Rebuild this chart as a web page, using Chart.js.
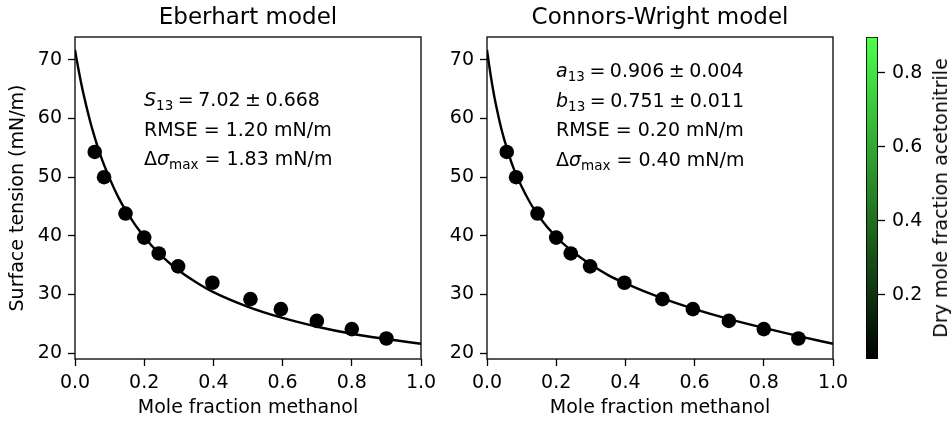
<!DOCTYPE html>
<html>
<head>
<meta charset="utf-8">
<script src="https://cdn.jsdelivr.net/npm/chart.js@4/dist/chart.umd.min.js"></script>
<style>
    body { margin: 0; background: #fff; }
    #wrap { position: relative; width: 952px; height: 421px; overflow: hidden; }
    canvas { position: absolute; top: 0; }
    .note { position: absolute; font: 19px 'DejaVu Sans'; line-height: 29.5px; color: #000; white-space: nowrap; }
    .note sub { font-size: 13.5px; line-height: 0; vertical-align: -4px; }
    .note .m { word-spacing: -1.5px; }
    #cbLabel { position: absolute; left: 940px; top: 198px; font: 19px 'DejaVu Sans'; white-space: nowrap;
               transform: translate(-50%, -50%) rotate(-90deg); }
</style>
</head>
<body>
<div id="wrap">
    <canvas id="eberhart" width="440" height="421" style="left:0"></canvas>
    <canvas id="connors" width="420" height="421" style="left:440px"></canvas>
    <canvas id="colorbar" width="92" height="421" style="left:860px"></canvas>
    <div class="note" style="left:144px;top:85px">
        <div class="m"><i>S</i><sub>13</sub> = 7.02 ± 0.668</div>
        <div>RMSE = 1.20 mN/m</div>
        <div>Δ<i>σ</i><sub>max</sub> = 1.83 mN/m</div>
    </div>
    <div class="note" style="left:556px;top:56px">
        <div class="m"><i>a</i><sub>13</sub> = 0.906 ± 0.004</div>
        <div class="m"><i>b</i><sub>13</sub> = 0.751 ± 0.011</div>
        <div>RMSE = 0.20 mN/m</div>
        <div>Δ<i>σ</i><sub>max</sub> = 0.40 mN/m</div>
    </div>
    <div id="cbLabel">Dry mole fraction acetonitrile</div>
</div>
<script>
// measured points
const methanolFrac = [0.057, 0.084, 0.146, 0.2, 0.242, 0.298, 0.397, 0.507, 0.595, 0.699, 0.8, 0.9];
const surfaceTension = [54.3, 50.0, 43.8, 39.7, 37.0, 34.8, 32.0, 29.2, 27.5, 25.5, 24.1, 22.5];

// fitted curves
const fitX = [0, 0.005, 0.01, 0.02, 0.03, 0.04, 0.05, 0.075, 0.1, 0.125, 0.15, 0.2, 0.25, 0.3, 0.35, 0.4, 0.5, 0.6, 0.7, 0.8, 0.9, 1.0];
const eberhartFit = [71.7, 70.0, 68.4, 65.4, 62.8, 60.4, 58.2, 53.5, 49.8, 46.6, 44.0, 39.8, 36.6, 34.1, 32.1, 30.4, 27.9, 26.0, 24.5, 23.3, 22.4, 21.6];
const connorsWrightFit = [71.7, 69.6, 67.6, 64.1, 61.2, 58.6, 56.4, 51.8, 48.4, 45.6, 43.3, 39.8, 37.2, 35.1, 33.3, 31.9, 29.5, 27.5, 25.8, 24.3, 22.9, 21.6];

const xTicks = [0, 0.2, 0.4, 0.6, 0.8, 1.0];
const yTicks = [20, 30, 40, 50, 60, 70];
const yRange = [19.0, 73.9];
const colorbarTicks = [0.2, 0.4, 0.6, 0.8];
const colorbarRange = [0.027, 0.897];

Chart.defaults.font.family = 'DejaVu Sans';
Chart.defaults.font.size = 19;
Chart.defaults.color = '#000';

// box around the plot area
const framePlugin = {
    id: 'frame',
    afterDatasetsDraw(chart) {
        const a = chart.chartArea;
        const ctx = chart.ctx;
        ctx.save();
        ctx.strokeStyle = '#000';
        ctx.lineWidth = 1.3;
        ctx.strokeRect(a.left, a.top, a.right - a.left, a.bottom - a.top);
        ctx.restore();
    }
};

function makePanel(id, title, fit, yAxisWidth, padRight, showYTitle) {
    const ctx = document.getElementById(id).getContext('2d');
    return new Chart(ctx, {
        type: 'scatter',
        data: {
            datasets: [{
                data: fitX.map((x, i) => ({x: x, y: fit[i]})),
                showLine: true,
                borderColor: '#000',
                borderWidth: 2.4,
                pointRadius: 0,
                cubicInterpolationMode: 'monotone'
            }, {
                data: methanolFrac.map((x, i) => ({x: x, y: surfaceTension[i]})),
                backgroundColor: '#000',
                borderColor: '#000',
                borderWidth: 0,
                pointRadius: 7.3
            }]
        },
        options: {
            responsive: false,
            animation: false,
            layout: { padding: { left: 0, right: padRight, top: 0, bottom: 0 } },
            plugins: {
                legend: { display: false },
                tooltip: { enabled: false },
                title: {
                    display: true,
                    text: title,
                    fullSize: false,
                    font: { size: 23, weight: 'normal' },
                    padding: { top: 4, bottom: 5.4 }
                }
            },
            scales: {
                x: {
                    type: 'linear',
                    min: 0,
                    max: 1,
                    afterBuildTicks: s => { s.ticks = xTicks.map(v => ({value: v})); },
                    afterFit: s => { s.height = 62; s.paddingLeft = 0; s.paddingRight = 0; },
                    ticks: { padding: 6, callback: v => v.toFixed(1) },
                    grid: { drawOnChartArea: false, tickLength: 7, tickWidth: 1.3, tickColor: '#000' },
                    border: { display: false },
                    title: { display: true, text: 'Mole fraction methanol', padding: { top: 0, bottom: 2 } }
                },
                y: {
                    min: yRange[0],
                    max: yRange[1],
                    afterBuildTicks: s => { s.ticks = yTicks.map(v => ({value: v})); },
                    afterFit: s => { s.width = yAxisWidth; s.paddingTop = 0; s.paddingBottom = 0; },
                    ticks: { padding: 6, callback: v => String(v) },
                    grid: { drawOnChartArea: false, tickLength: 7, tickWidth: 1.3, tickColor: '#000' },
                    border: { display: false },
                    title: { display: showYTitle, text: 'Surface tension (mN/m)', padding: { top: 7, bottom: 0 } }
                }
            }
        },
        plugins: [framePlugin]
    });
}

makePanel('eberhart', 'Eberhart model', eberhartFit, 75, 19, true);
makePanel('connors', 'Connors-Wright model', connorsWrightFit, 47, 27, false);

// colour bar
new Chart(document.getElementById('colorbar').getContext('2d'), {
    type: 'bar',
    data: {
        labels: [''],
        datasets: [{
            data: [[colorbarRange[0], colorbarRange[1]]],
            barPercentage: 1,
            categoryPercentage: 1,
            borderWidth: 1.2,
            borderColor: '#000',
            borderSkipped: false,
            backgroundColor: c => {
                const a = c.chart.chartArea;
                if (!a) return '#000';
                const g = c.chart.ctx.createLinearGradient(0, a.bottom, 0, a.top);
                g.addColorStop(0, '#000000');
                g.addColorStop(1, '#4cff4c');
                return g;
            }
        }]
    },
    options: {
        responsive: false,
        animation: false,
        layout: { padding: { left: 6, right: 0, top: 37, bottom: 62 } },
        plugins: { legend: { display: false }, tooltip: { enabled: false } },
        scales: {
            x: { display: false },
            y: {
                position: 'right',
                min: colorbarRange[0],
                max: colorbarRange[1],
                afterBuildTicks: s => { s.ticks = colorbarTicks.map(v => ({value: v})); },
                afterFit: s => { s.width = 74; s.paddingTop = 0; s.paddingBottom = 0; },
                ticks: { padding: 7, callback: v => v.toFixed(1) },
                grid: { drawOnChartArea: false, tickLength: 7, tickWidth: 1.3, tickColor: '#000' },
                border: { display: false }
            }
        }
    }
});
</script>
</body>
</html>
